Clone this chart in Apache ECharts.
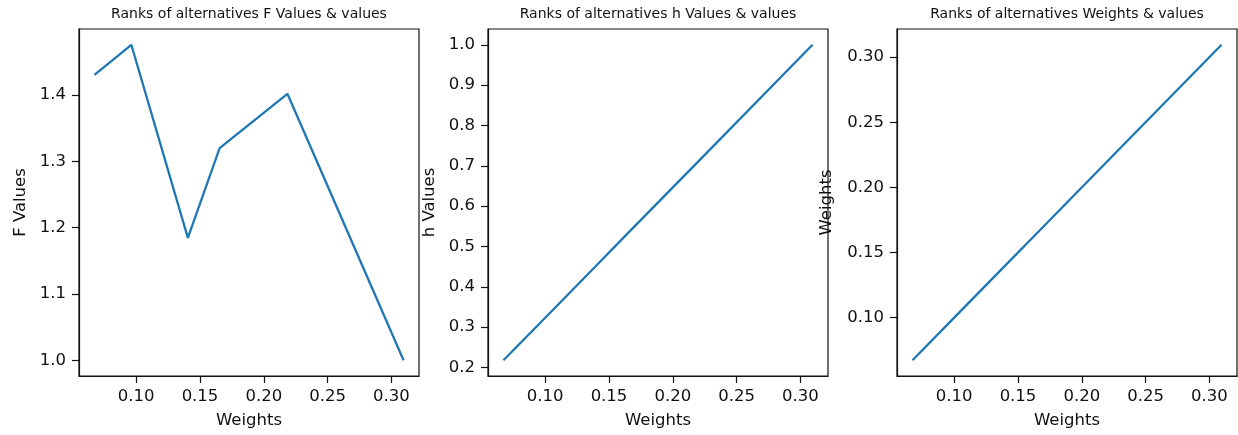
<!DOCTYPE html>
<html>
<head>
<meta charset="utf-8">
<script src="https://cdn.jsdelivr.net/npm/echarts@6/dist/echarts.min.js"></script>
<style>
html,body{margin:0;padding:0;background:#fff;}
#c{width:1238px;height:435px;}
</style>
</head>
<body>
<div id="c"></div>
<script>
// Data
const weights = [0.0673, 0.0962, 0.1405, 0.1654, 0.2185, 0.3095];
const fValues = [1.4307, 1.476, 1.1846, 1.320, 1.402, 1.000];
const hValues = [0.218, 0.311, 0.454, 0.535, 0.706, 1.000];
const xTicks = [0.10, 0.15, 0.20, 0.25, 0.30];
const fTicks = [1.0, 1.1, 1.2, 1.3, 1.4];
const hTicks = [0.2, 0.3, 0.4, 0.5, 0.6, 0.7, 0.8, 0.9, 1.0];
const wTicks = [0.10, 0.15, 0.20, 0.25, 0.30];
const titles = [
  'Ranks of alternatives F Values & values',
  'Ranks of alternatives h Values & values',
  'Ranks of alternatives Weights & values'
];
const yNames = ['F Values', 'h Values', 'Weights'];

const FONT = 'DejaVu Sans';
const FS = 16.5;
const LEFTS = [79, 488, 897];
const W = 340, TOP = 29, H = 347;

function padRange(arr) {
  const mn = Math.min(...arr), mx = Math.max(...arr);
  const p = (mx - mn) * 0.05;
  return [mn - p, mx + p];
}

const panels = [
  {y: fValues, ticks: fTicks, dec: 1, nameGap: 50},
  {y: hValues, ticks: hTicks, dec: 1, nameGap: 50},
  {y: weights, ticks: wTicks, dec: 2, nameGap: 62}
];

const xr = padRange(weights);
const option = {
  animation: false,
  backgroundColor: '#fff',
  title: [], grid: [], xAxis: [], yAxis: [], series: []
};

panels.forEach((p, i) => {
  const yr = padRange(p.y);
  option.title.push({
    text: titles[i], left: LEFTS[i] + W / 2, top: 7, textAlign: 'center', padding: 0,
    textStyle: {fontFamily: FONT, fontSize: 14, fontWeight: 'normal', color: '#111'}
  });
  option.grid.push({
    left: LEFTS[i], top: TOP, width: W, height: H,
    show: true, borderColor: '#111', borderWidth: 1.2, backgroundColor: 'transparent'
  });
  option.xAxis.push({
    type: 'value', gridIndex: i, min: xr[0], max: xr[1],
    name: 'Weights', nameLocation: 'middle', nameGap: 36,
    nameTextStyle: {fontFamily: FONT, fontSize: FS, color: '#111'},
    axisLine: {show: true, onZero: false, lineStyle: {color: '#111', width: 1.2}},
    axisTick: {show: true, length: 7, customValues: xTicks, lineStyle: {color: '#111', width: 1.2}},
    axisLabel: {customValues: xTicks, margin: 12, fontFamily: FONT, fontSize: FS, color: '#111',
      formatter: v => v.toFixed(2)},
    splitLine: {show: false}
  });
  option.yAxis.push({
    type: 'value', gridIndex: i, min: yr[0], max: yr[1],
    name: yNames[i], nameLocation: 'middle', nameGap: p.nameGap,
    nameTextStyle: {fontFamily: FONT, fontSize: FS, color: '#111'},
    axisLine: {show: true, onZero: false, lineStyle: {color: '#111', width: 1.2}},
    axisTick: {show: true, length: 7, customValues: p.ticks, lineStyle: {color: '#111', width: 1.2}},
    axisLabel: {customValues: p.ticks, margin: 13, fontFamily: FONT, fontSize: FS, color: '#111',
      formatter: v => v.toFixed(p.dec)},
    splitLine: {show: false}
  });
  option.series.push({
    type: 'line', xAxisIndex: i, yAxisIndex: i,
    data: weights.map((w, k) => [w, p.y[k]]),
    showSymbol: false, symbol: 'none',
    lineStyle: {color: '#1f77b4', width: 2.3}
  });
});

const chart = echarts.init(document.getElementById('c'), null, {renderer: 'canvas'});
chart.setOption(option);
</script>
</body>
</html>
